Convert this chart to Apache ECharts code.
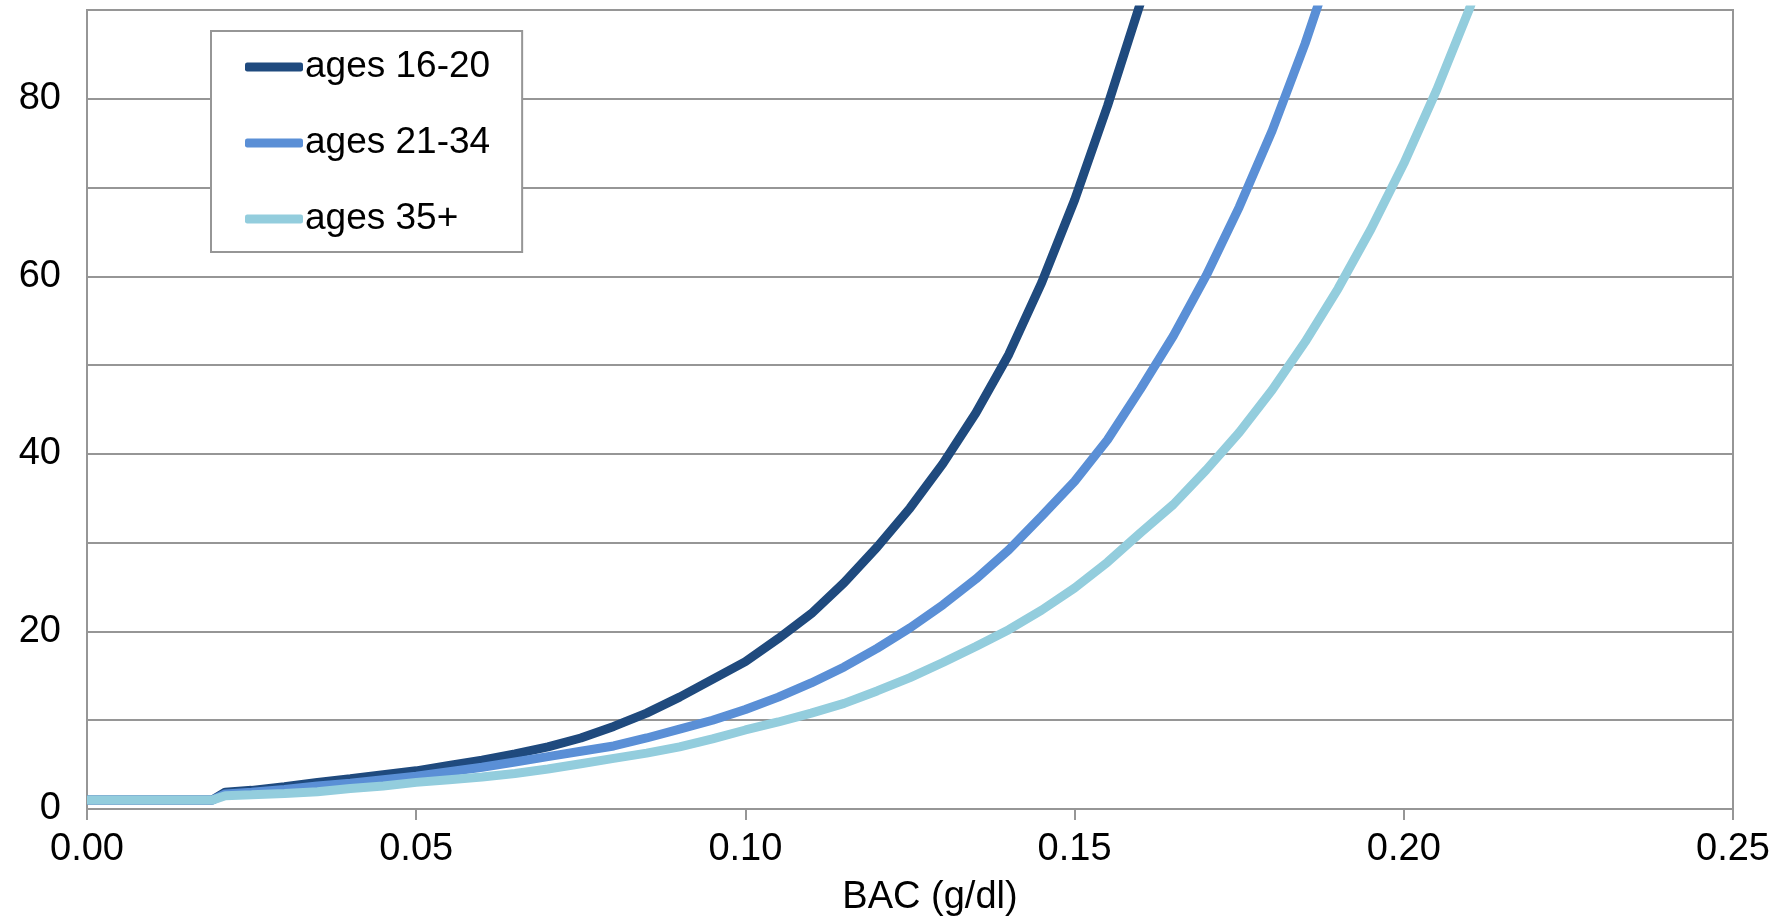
<!DOCTYPE html>
<html>
<head>
<meta charset="utf-8">
<script src="https://cdn.jsdelivr.net/npm/echarts@6/dist/echarts.min.js"></script>
<style>
html,body{margin:0;padding:0;background:#fff;}
#chart{width:1787px;height:922px;}
</style>
</head>
<body>
<div id="chart"></div>
<script>
// BAC values (g/dl)
var bac = [0, 0.005, 0.010, 0.015, 0.019, 0.021, 0.025, 0.030, 0.035, 0.040, 0.045, 0.050, 0.055, 0.060, 0.065, 0.070, 0.075, 0.080, 0.085, 0.090, 0.095, 0.100, 0.105, 0.110, 0.115, 0.120, 0.125, 0.130, 0.135, 0.140, 0.145, 0.150, 0.155, 0.160, 0.165, 0.170, 0.175, 0.180, 0.185, 0.190, 0.195, 0.200, 0.205, 0.210, 0.215];
var ages1620 = [1, 1, 1, 1, 1, 1.9, 2.1, 2.5, 3.0, 3.4, 3.85, 4.3, 4.9, 5.5, 6.2, 7.0, 8.0, 9.3, 10.8, 12.6, 14.6, 16.6, 19.2, 22.0, 25.5, 29.5, 33.9, 38.9, 44.6, 51.2, 59.3, 68.6, 79.2, 90.8, null, null, null, null, null, null, null, null, null, null, null];
var ages2134 = [1, 1, 1, 1, 1, 1.7, 1.9, 2.2, 2.6, 2.9, 3.3, 3.7, 4.2, 4.7, 5.3, 5.9, 6.5, 7.1, 8.0, 9.0, 10.0, 11.2, 12.6, 14.2, 16.0, 18.1, 20.4, 23.0, 25.9, 29.2, 33.0, 36.9, 41.6, 47.3, 53.3, 60.1, 67.8, 76.4, 86.2, 97.2, null, null, null, null, null];
var ages35 = [1, 1, 1, 1, 1, 1.5, 1.6, 1.75, 1.95, 2.3, 2.6, 3.0, 3.3, 3.6, 4.0, 4.5, 5.1, 5.7, 6.3, 7.0, 7.9, 8.9, 9.8, 10.8, 11.9, 13.3, 14.8, 16.5, 18.3, 20.2, 22.4, 24.9, 27.8, 31.1, 34.3, 38.2, 42.4, 47.2, 52.6, 58.6, 65.3, 72.7, 81.0, 90.2, 100.5];
var seriesNames = ['ages 16-20', 'ages 21-34', 'ages 35+'];
var xTicks = [0, 0.05, 0.10, 0.15, 0.20, 0.25];

function pairs(ys) {
  var out = [];
  for (var i = 0; i < bac.length; i++) {
    if (ys[i] !== null) out.push([bac[i], ys[i]]);
  }
  return out;
}

var FONT = 'Liberation Sans';
var GRAY = '#969696';
var colors = ['#1F4A7E', '#5A8FD6', '#93CDDD'];
var chart = echarts.init(document.getElementById('chart'));
chart.setOption({
  animation: false,
  backgroundColor: '#fff',
  grid: {
    left: 87, right: 54, top: 10, bottom: 103,
    show: true, borderColor: GRAY, borderWidth: 2
  },
  legend: {
    left: 211, top: 31,
    orient: 'vertical',
    data: seriesNames,
    icon: 'roundRect',
    itemWidth: 58, itemHeight: 9,
    itemGap: 36,
    padding: [16, 32, 13, 34],
    borderColor: GRAY, borderWidth: 2,
    backgroundColor: '#fff',
    textStyle: { fontFamily: FONT, fontSize: 37, lineHeight: 40, color: '#000', padding: [0, 0, 0, -3] }
  },
  xAxis: {
    type: 'value', min: xTicks[0], max: xTicks[xTicks.length - 1], interval: 0.05,
    name: 'BAC (g/dl)', nameLocation: 'middle', nameGap: 70,
    nameTextStyle: { fontFamily: FONT, fontSize: 38, color: '#000', padding: [0, 0, 0, 40] },
    axisLine: { show: true, lineStyle: { color: GRAY, width: 2 } },
    axisTick: { show: true, length: 11, lineStyle: { color: GRAY, width: 2 } },
    splitLine: { show: false },
    axisLabel: { fontFamily: FONT, fontSize: 38, color: '#000', margin: 22,
      formatter: function (v) { return v.toFixed(2); } }
  },
  yAxis: {
    type: 'value', min: 0, max: 90, interval: 10,
    axisLine: { show: true, lineStyle: { color: GRAY, width: 2 } },
    axisTick: { show: false },
    splitLine: { show: true, lineStyle: { color: GRAY, width: 2 } },
    axisLabel: { fontFamily: FONT, fontSize: 38, color: '#000', margin: 26,
      formatter: function (v) { return v % 20 === 0 ? String(v) : ''; } }
  },
  series: [
    { name: seriesNames[0], type: 'line', data: pairs(ages1620), showSymbol: false, symbol: 'none', clip: true,
      lineStyle: { color: colors[0], width: 9 }, itemStyle: { color: colors[0] } },
    { name: seriesNames[1], type: 'line', data: pairs(ages2134), showSymbol: false, symbol: 'none', clip: true,
      lineStyle: { color: colors[1], width: 9 }, itemStyle: { color: colors[1] } },
    { name: seriesNames[2], type: 'line', data: pairs(ages35), showSymbol: false, symbol: 'none', clip: true,
      lineStyle: { color: colors[2], width: 9 }, itemStyle: { color: colors[2] } }
  ]
});
</script>
</body>
</html>
